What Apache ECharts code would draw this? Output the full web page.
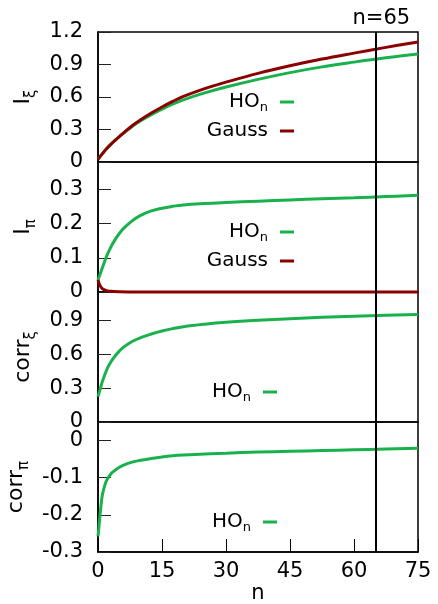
<!DOCTYPE html>
<html>
<head>
<meta charset="utf-8">
<script src="https://cdn.jsdelivr.net/npm/echarts@6/dist/echarts.min.js"></script>
<style>
  html, body { margin: 0; padding: 0; background: #fff; }
  #main { width: 438px; height: 604px; }
</style>
</head>
<body>
<div id="main"></div>
<script>
  // n value of the vertical marker line
  var markerN = 65
  var xTicks = [0, 15, 30, 45, 60, 75]

  // panel 1: I_xi
  var nXi = [0, 1, 2, 3, 4, 5, 6, 8, 10, 12.5, 15, 17.5, 20, 25, 30, 37.5, 45, 52.5, 60, 67.5, 75]
  var ixiHO = [0.025, 0.075, 0.122, 0.163, 0.2, 0.234, 0.266, 0.328, 0.38, 0.437, 0.488, 0.535, 0.574, 0.638, 0.692, 0.763, 0.825, 0.878, 0.922, 0.962, 0.997]
  var ixiGauss = [0.025, 0.075, 0.122, 0.163, 0.2, 0.235, 0.268, 0.335, 0.39, 0.452, 0.508, 0.559, 0.605, 0.678, 0.737, 0.818, 0.888, 0.95, 1.005, 1.058, 1.108]

  // panel 2: I_pi
  var nPiHO = [0, 1, 2, 3, 4, 5, 6, 8, 10, 12.5, 15, 17.5, 20, 25, 30, 37.5, 45, 52.5, 60, 67.5, 75]
  var ipiHO = [0.035, 0.07, 0.104, 0.131, 0.153, 0.171, 0.186, 0.208, 0.224, 0.237, 0.245, 0.2505, 0.2545, 0.2585, 0.2615, 0.2655, 0.269, 0.2725, 0.2755, 0.279, 0.2825]
  var nPiGauss = [0, 0.3, 0.6, 1, 1.5, 2, 3, 5, 10, 20, 40, 75]
  var ipiGauss = [0.035, 0.024, 0.016, 0.01, 0.006, 0.004, 0.002, 0.001, 0.0003, 0, 0, 0]

  // panel 3: corr_xi
  var nCorrXi = [0, 0.5, 1, 2, 3, 4, 5, 6, 8, 10, 12.5, 15, 17.5, 20, 25, 30, 37.5, 45, 52.5, 60, 67.5, 75]
  var corrXiHO = [0.225, 0.29, 0.355, 0.458, 0.53, 0.584, 0.627, 0.662, 0.712, 0.746, 0.778, 0.805, 0.826, 0.843, 0.865, 0.882, 0.9, 0.914, 0.926, 0.936, 0.944, 0.95]

  // panel 4: corr_pi
  var nCorrPi = [0, 0.25, 0.5, 0.75, 1, 1.5, 2, 3, 4, 5, 6, 8, 10, 12.5, 15, 17.5, 20, 25, 30, 37.5, 45, 52.5, 60, 67.5, 75]
  var corrPiHO = [-0.258, -0.228, -0.198, -0.17, -0.148, -0.124, -0.108, -0.09, -0.08, -0.072, -0.066, -0.058, -0.053, -0.048, -0.044, -0.041, -0.039, -0.036, -0.034, -0.031, -0.029, -0.027, -0.025, -0.023, -0.021]

  var GREEN = '#19b14c'
  var RED = '#8b0000'
  var FONT = 'DejaVu Sans'

  var pairs = function (xs, ys) {
    return xs.map(function (x, i) { return [x, ys[i]] })
  }

  var tops = [32, 162, 292, 422]
  var grids = tops.map(function (t) {
    return {
      left: 98, right: 20, top: t, height: 130, outerBoundsMode: 'none',
      show: true, borderColor: '#000', borderWidth: 1.5
    }
  })

  var xAxes = tops.map(function (t, i) {
    var last = i === tops.length - 1
    var ax = {
      type: 'value', gridIndex: i, min: xTicks[0], max: xTicks[xTicks.length - 1], interval: 15,
      show: last, position: 'bottom',
      axisLine: { show: true, onZero: false, lineStyle: { color: '#000', width: 1.5 } },
      splitLine: { show: false },
      axisTick: { show: true, inside: true, length: 13, lineStyle: { color: '#000', width: 1 } },
      axisLabel: { show: true, fontSize: 21, color: '#000', fontFamily: FONT, margin: 9 }
    }
    if (last) {
      ax.name = 'n'
      ax.nameLocation = 'middle'
      ax.nameGap = 30
      ax.nameTextStyle = { fontSize: 21, color: '#000', fontFamily: FONT }
    }
    return ax
  })

  var nameRich = {
    a: { fontSize: 22, lineHeight: 30, color: '#000', fontFamily: FONT },
    b: { fontSize: 15, lineHeight: 15, verticalAlign: 'bottom', color: '#000', fontFamily: FONT }
  }
  var yAxis = function (i, min, max, interval, name, showMax) {
    return {
      type: 'value', gridIndex: i, min: min, max: max, interval: interval,
      axisLine: { show: true, onZero: false, lineStyle: { color: '#000', width: 1.5 } },
      splitLine: { show: false },
      axisTick: { inside: true, length: 13, lineStyle: { color: '#222', width: 1 } },
      axisLabel: { fontSize: 21, color: '#000', fontFamily: FONT, margin: 15, showMaxLabel: showMax },
      name: name, nameLocation: 'middle', nameGap: 58, nameRotate: 90,
      nameTextStyle: { rich: nameRich }
    }
  }
  var yAxes = [
    yAxis(0, 0, 1.2, 0.3, '{a|I}{b|ξ}', true),
    yAxis(1, 0, 0.38, 0.1, '{a|I}{b|π}', false),
    yAxis(2, 0, 1.15, 0.3, '{a|corr}{b|ξ}', false),
    yAxis(3, -0.3, 0.05, 0.1, '{a|corr}{b|π}', false)
  ]

  // bottom-panel x ticks drawn as short segments up from the axis (fallback, same spots as axis ticks)
  var yMin4 = yAxes[3].min
  var tickLen4 = 0.035
  var bottomTicks = xTicks.slice(1, -1).map(function (x) {
    return [
      { coord: [x, yMin4], lineStyle: { width: 1, color: '#000' } },
      { coord: [x, yMin4 + tickLen4] }
    ]
  })

  var marker = function (withLabel, extra) {
    return {
      symbol: 'none', silent: true, animation: false,
      lineStyle: { color: '#000', width: 2, type: 'solid' },
      label: {
        show: withLabel, position: 'end', formatter: 'n=' + markerN,
        fontSize: 21, color: '#000', fontFamily: FONT, distance: 3, padding: [0, 0, 0, 12]
      },
      data: [{ xAxis: markerN }].concat(extra || [])
    }
  }

  var line = function (name, color, i, data, mark) {
    var s = {
      name: name, type: 'line', xAxisIndex: i, yAxisIndex: i,
      data: data, showSymbol: false, symbol: 'none',
      smooth: 0.4, clip: false,
      lineStyle: { color: color, width: 3 }, itemStyle: { color: color }
    }
    if (mark) s.markLine = mark
    return s
  }

  var legendRich = {
    a: { fontSize: 20, lineHeight: 24, color: '#000', fontFamily: FONT },
    s: { fontSize: 13, lineHeight: 13, verticalAlign: 'bottom', color: '#000', fontFamily: FONT, padding: [0, 7, 0, 0] },
    g: { fontSize: 20, lineHeight: 24, color: '#000', fontFamily: FONT, padding: [0, 7, 0, 0] }
  }
  var legend = function (name, right, iconY) {
    return {
      data: [name], orient: 'vertical', align: 'right', right: right, top: iconY - 12,
      padding: 0, icon: 'rect', itemWidth: 14, itemHeight: 3, selectedMode: false,
      formatter: function (n) { return n === 'HOn' ? '{a|HO}{s|n}' : '{g|' + n + '}' },
      textStyle: { rich: legendRich }
    }
  }

  var chart = echarts.init(document.getElementById('main'))
  chart.setOption({
    animation: false,
    grid: grids,
    xAxis: xAxes,
    yAxis: yAxes,
    legend: [
      legend('HOn', 144, 104), legend('Gauss', 144, 133),
      legend('HOn', 144, 234), legend('Gauss', 144, 263),
      legend('HOn', 161, 394),
      legend('HOn', 161, 524)
    ],
    series: [
      line('HOn', GREEN, 0, pairs(nXi, ixiHO), marker(true)),
      line('Gauss', RED, 0, pairs(nXi, ixiGauss)),
      line('HOn', GREEN, 1, pairs(nPiHO, ipiHO), marker(false)),
      line('Gauss', RED, 1, pairs(nPiGauss, ipiGauss)),
      line('HOn', GREEN, 2, pairs(nCorrXi, corrXiHO), marker(false)),
      line('HOn', GREEN, 3, pairs(nCorrPi, corrPiHO), marker(false, bottomTicks))
    ]
  })
</script>
</body>
</html>
